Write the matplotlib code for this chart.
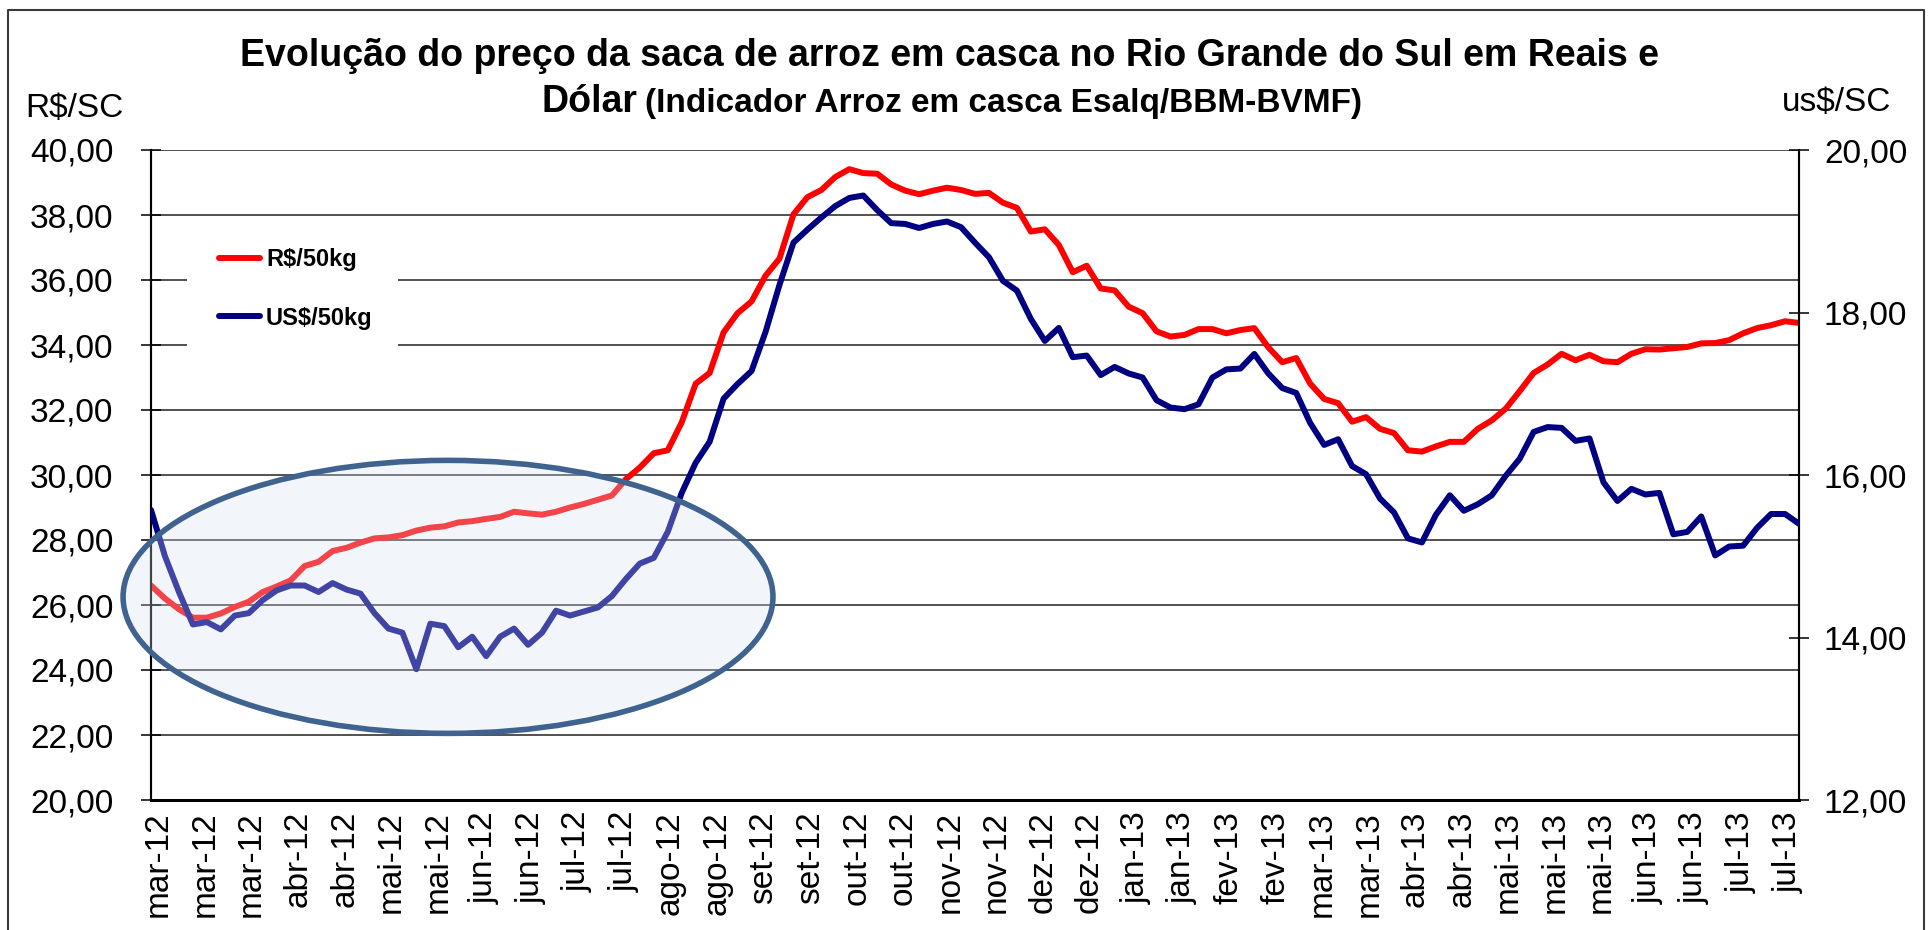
import numpy as np
import matplotlib
matplotlib.use("Agg")
import matplotlib.pyplot as plt
from matplotlib.patches import Ellipse, Rectangle
from matplotlib.lines import Line2D

plt.rcParams['font.family'] = ['Liberation Sans', 'DejaVu Sans']

# ---------------- data ----------------
# sample positions along the business-day index of the chart (every 3 trading days)
day_index = list(range(0, 355, 3))

rs_50kg = [26.60, 26.20, 25.87, 25.61, 25.61, 25.74, 25.94, 26.10, 26.40, 26.57,
           26.76, 27.20, 27.33, 27.66, 27.76, 27.92, 28.05, 28.08, 28.15, 28.29,
           28.38, 28.42, 28.54, 28.58, 28.65, 28.71, 28.87, 28.82, 28.78, 28.87,
           29.00, 29.11, 29.24, 29.37, 29.87, 30.23, 30.67, 30.76, 31.62, 32.81,
           33.14, 34.39, 34.98, 35.34, 36.13, 36.66, 38.02, 38.55, 38.77, 39.17,
           39.41, 39.29, 39.27, 38.94, 38.75, 38.64, 38.75, 38.84, 38.77, 38.65,
           38.68, 38.38, 38.22, 37.49, 37.56, 37.08, 36.24, 36.44, 35.74, 35.68,
           35.18, 34.98, 34.42, 34.26, 34.31, 34.49, 34.49, 34.36, 34.46, 34.52,
           33.93, 33.47, 33.60, 32.81, 32.34, 32.21, 31.64, 31.78, 31.42, 31.29,
           30.76, 30.72, 30.88, 31.02, 31.02, 31.42, 31.68, 32.04, 32.58, 33.14,
           33.40, 33.73, 33.53, 33.70, 33.50, 33.47, 33.73, 33.87, 33.86, 33.90,
           33.94, 34.05, 34.06, 34.15, 34.36, 34.52, 34.61, 34.73, 34.68]

us_50kg = [15.57, 15.00, 14.56, 14.16, 14.19, 14.10, 14.27, 14.30, 14.46, 14.58,
           14.64, 14.64, 14.56, 14.67, 14.59, 14.54, 14.30, 14.11, 14.06, 13.61,
           14.17, 14.14, 13.88, 14.01, 13.77, 14.01, 14.11, 13.91, 14.06, 14.33,
           14.27, 14.32, 14.37, 14.51, 14.72, 14.91, 14.98, 15.30, 15.78, 16.15,
           16.41, 16.94, 17.12, 17.28, 17.76, 18.34, 18.86, 19.02, 19.17, 19.31,
           19.41, 19.44, 19.26, 19.10, 19.09, 19.04, 19.09, 19.12, 19.05, 18.86,
           18.68, 18.39, 18.27, 17.92, 17.65, 17.81, 17.45, 17.47, 17.23, 17.33,
           17.25, 17.20, 16.92, 16.83, 16.81, 16.87, 17.20, 17.30, 17.31, 17.49,
           17.25, 17.07, 17.01, 16.64, 16.37, 16.44, 16.11, 16.01, 15.71, 15.54,
           15.22, 15.17, 15.51, 15.75, 15.56, 15.64, 15.75, 15.99, 16.20, 16.53,
           16.59, 16.58, 16.42, 16.45, 15.91, 15.68, 15.83, 15.76, 15.78, 15.27,
           15.30, 15.49, 15.01, 15.12, 15.13, 15.35, 15.52, 15.52, 15.40]

tick_labels = ['mar-12', 'mar-12', 'mar-12', 'abr-12', 'abr-12', 'mai-12', 'mai-12',
               'jun-12', 'jun-12', 'jul-12', 'jul-12', 'ago-12', 'ago-12', 'set-12',
               'set-12', 'out-12', 'out-12', 'nov-12', 'nov-12', 'dez-12', 'dez-12',
               'jan-13', 'jan-13', 'fev-13', 'fev-13', 'mar-13', 'mar-13', 'abr-13',
               'abr-13', 'mai-13', 'mai-13', 'mai-13', 'jun-13', 'jun-13', 'jul-13',
               'jul-13']
tick_every = 10          # one label every 10 trading days
tick_offset = 1.6
n_days = 354

left_ticks = [20, 22, 24, 26, 28, 30, 32, 34, 36, 38, 40]
right_ticks = [12, 14, 16, 18, 20]

series_names = ['R$/50kg', 'US$/50kg']
RED = '#FF0000'
NAVY = '#000080'

# ---------------- figure ----------------
W, H, DPI = 1930, 930, 100
fig = plt.figure(figsize=(W / DPI, H / DPI), dpi=DPI)
fig.patch.set_facecolor('white')

ax = fig.add_axes([151 / W, 1 - 800 / H, (1799 - 151) / W, (800 - 150) / H])
ax2 = ax.twinx()

ax.set_axisbelow(True)
ax.set_xlim(0, n_days)
ax.set_ylim(20, 40)
ax2.set_ylim(12, 20)

ln1, = ax.plot(day_index, rs_50kg, color=RED, lw=4.3, solid_joinstyle='round',
               solid_capstyle='round', zorder=3, label=series_names[0])
ln2, = ax2.plot(day_index, us_50kg, color=NAVY, lw=4.3, solid_joinstyle='round',
                solid_capstyle='round', zorder=3, label=series_names[1])

fmt = lambda v: f"{v:.2f}".replace('.', ',')
ax.set_yticks(left_ticks)
ax.set_yticklabels([fmt(v) for v in left_ticks])
ax2.set_yticks(right_ticks)
ax2.set_yticklabels([fmt(v) for v in right_ticks])

ax.grid(axis='y', color='#222222', lw=1.1)
ax.grid(axis='x', visible=False)

xt = [tick_offset + tick_every * i for i in range(len(tick_labels))]
ax.set_xticks(xt)
ax.set_xticklabels(tick_labels, rotation=90, fontsize=24)
ax.tick_params(axis='x', length=0, pad=8)
ax.tick_params(axis='y', direction='inout', length=14, width=1.1, labelsize=24,
               pad=20, colors='black')
ax2.tick_params(axis='y', direction='inout', length=14, width=1.1, labelsize=24,
                pad=11, colors='black')

for a in (ax, ax2):
    a.spines['top'].set_visible(False)
    a.spines['left'].set_linewidth(1.5)
    a.spines['right'].set_linewidth(1.5)
    a.spines['bottom'].set_linewidth(2.0)
ax2.patch.set_visible(False)

# white legend background
ax.add_patch(Rectangle((0.0218, 0.638), 0.128, 0.251, transform=ax.transAxes,
                       facecolor='white', edgecolor='none', zorder=1))
leg = ax2.legend(handles=[ln1, ln2], loc='upper left', bbox_to_anchor=(0.034, 0.867),
                 frameon=False, borderpad=0, labelspacing=1.5, handlelength=1.75,
                 handletextpad=0.25, prop={'weight': 'bold', 'size': 17})

# highlight ellipse (drawn over the lines, semi-transparent fill)
ell = Ellipse((63.8, 26.25), 139.6, 8.4, transform=ax.transData,
              facecolor=(0.84, 0.89, 0.96, 0.30), edgecolor='#3F628F', lw=4.0,
              zorder=10, clip_on=False)
ax2.add_patch(ell)

# titles and axis unit labels
fig.text(950 / W, 1 - 66 / H,
         'Evolução do preço da saca de arroz em casca no Rio Grande do Sul em Reais e',
         ha='center', va='baseline', fontsize=27, fontweight='bold')
fig.text(542 / W, 1 - 112 / H, 'Dólar', ha='left', va='baseline', fontsize=27,
         fontweight='bold')
fig.text(645 / W, 1 - 112 / H, '(Indicador Arroz em casca Esalq/BBM-BVMF)',
         ha='left', va='baseline', fontsize=24, fontweight='bold')
fig.text(25 / W, 1 - 108 / H, 'R$/SC', ha='left', va='center', fontsize=24)
fig.text(1782 / W, 1 - 103 / H, 'us$/SC', ha='left', va='center', fontsize=24)

# outer chart border (left, top, right)
bx = [8 / W, 8 / W, 1924 / W, 1924 / W]
by = [0.0, 1 - 10 / H, 1 - 10 / H, 0.0]
fig.add_artist(Line2D(bx, by, transform=fig.transFigure, color='#3a3a3a', lw=1.5))

fig.savefig('out.png', dpi=DPI)
